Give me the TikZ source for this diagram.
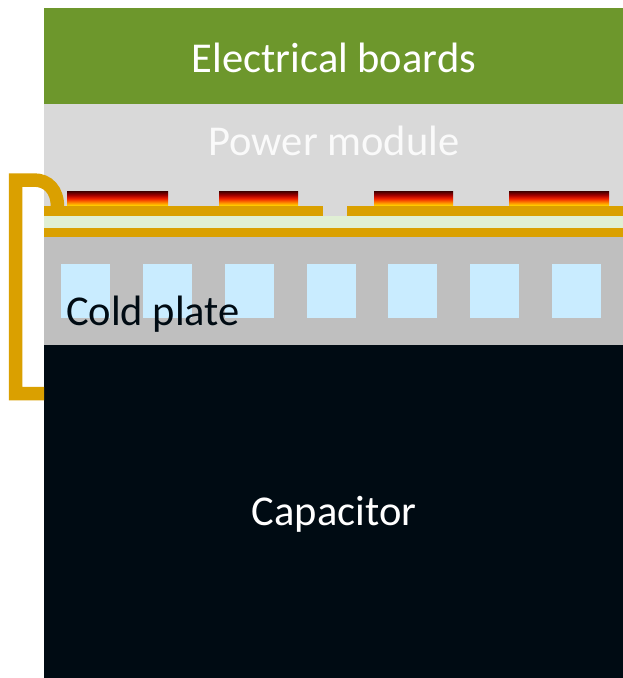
\documentclass[tikz,border=0pt]{standalone}
\usepackage{fontspec}
\setmainfont{Carlito}
\definecolor{boardgreen}{HTML}{6D972C}
\definecolor{modgray}{HTML}{D9D9D9}
\definecolor{copper}{HTML}{DAA000}
\definecolor{ceramic}{HTML}{E0EFD4}
\definecolor{plategray}{HTML}{BFBFBF}
\definecolor{channel}{HTML}{C9ECFF}
\definecolor{capblack}{HTML}{000B13}
\definecolor{modtext}{HTML}{FAFAFA}
\definecolor{heatA}{HTML}{FFE000}
\definecolor{heatB}{HTML}{FF9000}
\definecolor{heatC}{HTML}{F02000}
\definecolor{heatD}{HTML}{A00000}
\definecolor{heatE}{HTML}{3C0000}
\pgfdeclareverticalshading{chipheat}{100bp}{
  color(0bp)=(heatA);
  color(25bp)=(heatA);
  color(36bp)=(heatB);
  color(50bp)=(heatC);
  color(62bp)=(heatD);
  color(75bp)=(heatE);
  color(100bp)=(heatE)}
\tikzset{
  layer/.style={fill=#1,draw=none},
  label/.style={font=\fontsize{42.5}{42.5}\selectfont,inner sep=0pt,anchor=center},
  bracket/.style={draw=copper,line width=13.5pt,line cap=butt,line join=miter},
}
\newcommand{\chipbar}[2]{\shade[shading=chipheat] (#1,191) rectangle (#2,206);}
\newcommand{\coolbox}[1]{\fill[channel] (#1,264) rectangle ++(49,54);}
\begin{document}
\begin{tikzpicture}[x=1pt,y=-1pt]
\useasboundingbox (0,0) rectangle (623,678);
\fill[layer=white] (0,0) rectangle (623,678);
\fill[layer=boardgreen] (44,8) rectangle (623,104);
\fill[layer=modgray] (44,104) rectangle (623,237);
\fill[layer=plategray] (44,237) rectangle (623,345);
\fill[layer=capblack] (44,345) rectangle (623,678);
\fill[layer=ceramic] (44,216) rectangle (623,228);
\chipbar{67}{168}
\chipbar{219}{298}
\chipbar{374}{453}
\chipbar{509}{609}
\fill[layer=copper] (44,206) rectangle (323,216);
\fill[layer=copper] (347,206) rectangle (623,216);
\fill[layer=copper] (44,228) rectangle (623,237);
\foreach \x in {61,143,225,307,388,470,552} {\coolbox{\x}}
\draw[bracket] (44,393.5) -- (15.5,393.5) -- (15.5,180) -- (34,180)
  .. controls (48,180) and (57.5,190) .. (57.5,207);
\node[label,text=white] (boards) at (334,58) {Electrical boards};
\node[label,text=modtext] (module) at (334,141) {Power module};
\node[label,text=capblack] (plate) at (153,314.5) {Cold plate};
\node[label,text=white] (cap) at (334,514) {Capacitor};
\end{tikzpicture}
\end{document}
